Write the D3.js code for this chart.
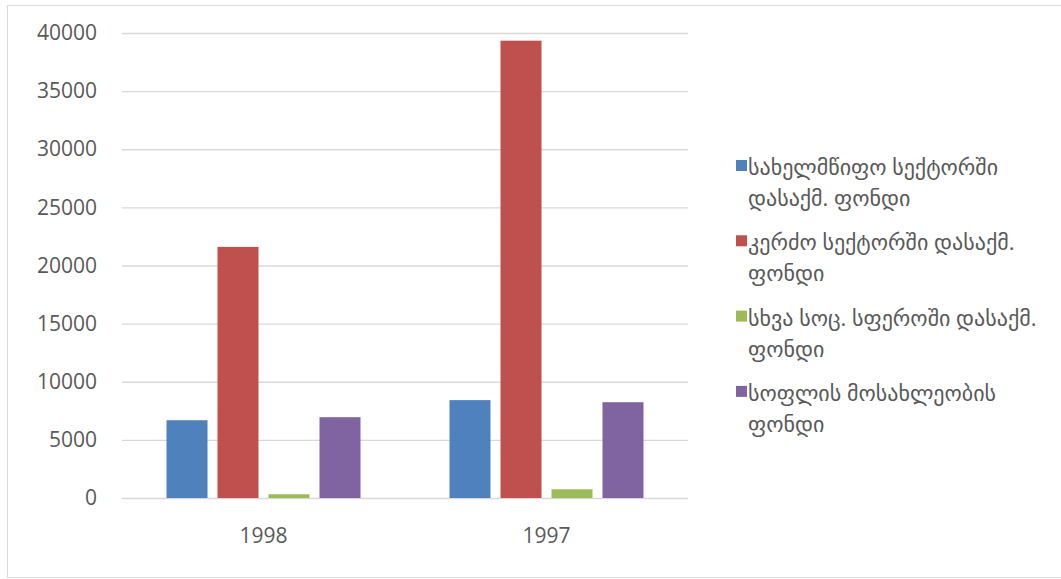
<!DOCTYPE html>
<html>
<head>
<meta charset="utf-8">
<script src="https://cdn.jsdelivr.net/npm/d3@7"></script>
<style>
  body { margin: 0; background: #fff; }
  text { font-family: "Open Sans", "DejaVu Sans", sans-serif; fill: #595959; }
</style>
</head>
<body>
<div id="chart"></div>
<script>
// data
var years = ["1998", "1997"];
var seriesNames = [
  "სახელმწიფო სექტორში დასაქმ. ფონდი",
  "კერძო სექტორში დასაქმ. ფონდი",
  "სხვა სოც. სფეროში დასაქმ. ფონდი",
  "სოფლის მოსახლეობის ფონდი"
];
// where the legend wraps each name onto a second line
var legendLines = [
  ["სახელმწიფო სექტორში", "დასაქმ. ფონდი"],
  ["კერძო სექტორში დასაქმ.", "ფონდი"],
  ["სხვა სოც. სფეროში დასაქმ.", "ფონდი"],
  ["სოფლის მოსახლეობის", "ფონდი"]
];
var stateFund = [6690, 8420];
var privateFund = [21600, 39340];
var socialFund = [320, 750];
var ruralFund = [6950, 8240];
var colors = ["#4f81bd", "#c0504d", "#9bbb59", "#8064a2"];
var yTicks = [0, 5000, 10000, 15000, 20000, 25000, 30000, 35000, 40000];

var svgWidth = 1061;
var svgHeight = 579;
var margin = { top: 33, left: 122, plotWidth: 566, plotHeight: 465 };

var svg = d3.select("#chart")
  .append("svg")
  .attr("width", svgWidth)
  .attr("height", svgHeight);

// outer chart border
svg.append("rect")
  .attr("x", 7.5)
  .attr("y", 5.5)
  .attr("width", 1100)
  .attr("height", 572)
  .attr("fill", "none")
  .attr("stroke", "#d9d9d9")
  .attr("stroke-width", 1);

var chartGroup = svg.append("g")
  .attr("transform", `translate(${margin.left}, ${margin.top})`);

var x0 = d3.scaleBand()
  .domain(years)
  .range([0, margin.plotWidth]);

var x1 = d3.scaleBand()
  .domain(d3.range(seriesNames.length))
  .range([44.5, x0.bandwidth() - 44.5])
  .paddingInner(0.196);

var y = d3.scaleLinear()
  .domain([0, 40000])
  .range([margin.plotHeight, 0]);

// gridlines
var leftAxis = d3.axisLeft(y)
  .tickValues(yTicks)
  .tickSize(-margin.plotWidth)
  .tickPadding(25)
  .tickFormat(d3.format("d"));

var yAxisG = chartGroup.append("g").call(leftAxis);
yAxisG.select(".domain").remove();
yAxisG.selectAll(".tick line")
  .attr("stroke", "#d9d9d9")
  .attr("stroke-width", 1.3);
yAxisG.selectAll(".tick text")
  .attr("font-size", "21px")
  .style("fill", "#595959");

var seriesValues = [stateFund, privateFund, socialFund, ruralFund];
var rows = years.map(function(yr, i) {
  return { year: yr, values: seriesValues.map(function(s) { return s[i]; }) };
});

var groups = chartGroup.selectAll(".yearGroup")
  .data(rows)
  .enter()
  .append("g")
  .attr("class", "yearGroup")
  .attr("transform", d => `translate(${x0(d.year)}, 0)`);

groups.selectAll("rect")
  .data(d => d.values)
  .enter()
  .append("rect")
  .attr("x", (d, i) => x1(i))
  .attr("y", d => y(d))
  .attr("width", x1.bandwidth())
  .attr("height", d => y(0) - y(d))
  .attr("fill", (d, i) => colors[i]);

// category labels
var bottomAxis = d3.axisBottom(x0).tickSize(0).tickPadding(30);
var xAxisG = chartGroup.append("g")
  .attr("transform", `translate(0, ${margin.plotHeight})`)
  .call(bottomAxis);
xAxisG.select(".domain").remove();
xAxisG.selectAll(".tick text")
  .attr("font-size", "21px")
  .style("fill", "#595959");

// legend
var legend = svg.append("g")
  .attr("transform", "translate(736, 160)");

var items = legend.selectAll(".legendItem")
  .data(seriesNames)
  .enter()
  .append("g")
  .attr("class", "legendItem")
  .attr("transform", (d, i) => `translate(0, ${i * 75.3})`);

items.append("rect")
  .attr("width", 11)
  .attr("height", 11)
  .attr("fill", (d, i) => colors[i]);

items.each(function(d, i) {
  var t = d3.select(this).append("text")
    .attr("x", 12)
    .attr("y", 15)
    .attr("font-size", "22px");
  legendLines[i].forEach(function(line, j) {
    t.append("tspan")
      .attr("x", 12)
      .attr("dy", j === 0 ? 0 : 31)
      .text(line);
  });
});
</script>
</body>
</html>
